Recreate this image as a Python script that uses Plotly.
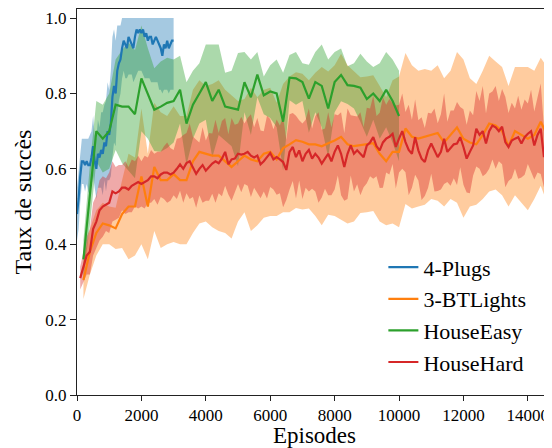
import numpy as np
import plotly.graph_objects as go

# 4-Plugs: every 50 episodes from 0 to 3000
plugs_ep = list(range(0, 3001, 50))
plugs_mean = [0.48, 0.52, 0.58, 0.62, 0.62, 0.61, 0.62, 0.61, 0.61, 0.63,
              0.66, 0.62, 0.60, 0.64, 0.63, 0.65, 0.64, 0.67, 0.66, 0.70,
              0.69, 0.72, 0.79, 0.82, 0.80, 0.86, 0.88, 0.89, 0.92, 0.94,
              0.93, 0.92, 0.95, 0.94, 0.93, 0.92, 0.95, 0.97, 0.96, 0.97,
              0.96, 0.97, 0.95, 0.96, 0.94, 0.95, 0.95, 0.93, 0.94, 0.95,
              0.94, 0.93, 0.92, 0.90, 0.93, 0.92, 0.94, 0.92, 0.93, 0.94,
              0.94]
plugs_std = [0.07, 0.08, 0.07, 0.06, 0.06, 0.07, 0.06, 0.07, 0.08, 0.07,
             0.08, 0.07, 0.08, 0.09, 0.08, 0.10, 0.11, 0.10, 0.12, 0.13,
             0.12, 0.14, 0.16, 0.15, 0.14, 0.12, 0.10, 0.09, 0.08, 0.08,
             0.09, 0.08, 0.10, 0.09, 0.08, 0.09, 0.11, 0.12, 0.10, 0.11,
             0.10, 0.12, 0.11, 0.12, 0.10, 0.11, 0.12, 0.10, 0.11, 0.12,
             0.11, 0.12, 0.11, 0.10, 0.12, 0.11, 0.13, 0.12, 0.12, 0.13,
             0.13]

# 3-BTLights: every 200 episodes from 200 to 14800
bt_ep = list(range(200, 14801, 200))
bt_mean = [0.305, 0.38, 0.43, 0.455, 0.45, 0.442, 0.48, 0.50, 0.50, 0.58,
           0.50, 0.605, 0.57, 0.57, 0.586, 0.57, 0.57, 0.62, 0.645, 0.64,
           0.635, 0.635, 0.62, 0.605, 0.62, 0.635, 0.625, 0.62, 0.64, 0.645,
           0.625, 0.655, 0.665, 0.676, 0.672, 0.665, 0.665, 0.66, 0.668, 0.675,
           0.685, 0.665, 0.66, 0.663, 0.665, 0.668, 0.64, 0.62, 0.645, 0.645,
           0.707, 0.685, 0.68, 0.685, 0.69, 0.695, 0.67, 0.69, 0.71, 0.68,
           0.67, 0.665, 0.69, 0.72, 0.715, 0.70, 0.66, 0.70, 0.69, 0.68,
           0.69, 0.725, 0.69, 0.72]
bt_std = [0.05, 0.06, 0.06, 0.055, 0.05, 0.055, 0.09, 0.14, 0.13, 0.18,
          0.14, 0.17, 0.18, 0.17, 0.18, 0.17, 0.17, 0.19, 0.19, 0.18,
          0.19, 0.20, 0.19, 0.19, 0.16, 0.15, 0.19, 0.17, 0.17, 0.17,
          0.15, 0.17, 0.18, 0.18, 0.18, 0.17, 0.19, 0.21, 0.19, 0.20,
          0.22, 0.21, 0.20, 0.18, 0.18, 0.18, 0.18, 0.17, 0.19, 0.20,
          0.20, 0.19, 0.18, 0.18, 0.17, 0.18, 0.17, 0.17, 0.20, 0.21,
          0.17, 0.16, 0.17, 0.18, 0.17, 0.17, 0.16, 0.17, 0.18, 0.19,
          0.17, 0.17, 0.18, 0.18]

# HouseEasy: every 200 episodes from 200 to 10000
easy_ep = list(range(200, 10001, 200))
easy_mean = [0.36, 0.53, 0.70, 0.68, 0.70, 0.77, 0.765, 0.765, 0.745, 0.84,
             0.80, 0.757, 0.765, 0.775, 0.78, 0.81, 0.72, 0.77, 0.80, 0.83,
             0.78, 0.81, 0.765, 0.76, 0.757, 0.83, 0.79, 0.85, 0.795, 0.805,
             0.80, 0.725, 0.842, 0.84, 0.83, 0.786, 0.83, 0.82, 0.76, 0.83,
             0.849, 0.822, 0.82, 0.815, 0.785, 0.80, 0.78, 0.81, 0.78, 0.74]
easy_std = [0.05, 0.08, 0.08, 0.09, 0.10, 0.12, 0.15, 0.17, 0.17, 0.14,
            0.12, 0.11, 0.12, 0.12, 0.11, 0.09, 0.11, 0.09, 0.08, 0.10,
            0.15, 0.12, 0.09, 0.10, 0.15, 0.08, 0.10, 0.06, 0.05, 0.07,
            0.09, 0.13, 0.06, 0.07, 0.05, 0.09, 0.08, 0.11, 0.13, 0.08,
            0.07, 0.05, 0.06, 0.09, 0.10, 0.07, 0.10, 0.10, 0.11, 0.12]

# HouseHard: every 100 episodes from 100 to 14800
hard_ep = list(range(100, 14801, 100))
hard_mean = [0.31, 0.34, 0.37, 0.38, 0.44, 0.46, 0.49, 0.50, 0.505, 0.51,
             0.54, 0.535, 0.54, 0.55, 0.55, 0.545, 0.555, 0.56, 0.565, 0.56,
             0.565, 0.57, 0.58, 0.58, 0.575, 0.585, 0.59, 0.59, 0.585, 0.59,
             0.60, 0.612, 0.60, 0.615, 0.62, 0.605, 0.587, 0.60, 0.61, 0.595,
             0.605, 0.614, 0.62, 0.615, 0.627, 0.645, 0.612, 0.625, 0.627, 0.64,
             0.638, 0.64, 0.645, 0.635, 0.63, 0.635, 0.612, 0.62, 0.631, 0.642,
             0.625, 0.631, 0.625, 0.618, 0.597, 0.645, 0.658, 0.631, 0.649, 0.62,
             0.64, 0.65, 0.627, 0.64, 0.63, 0.614, 0.627, 0.64, 0.62, 0.645,
             0.662, 0.64, 0.605, 0.64, 0.662, 0.64, 0.649, 0.64, 0.631, 0.662,
             0.67, 0.684, 0.66, 0.649, 0.67, 0.68, 0.685, 0.693, 0.658, 0.68,
             0.70, 0.671, 0.65, 0.64, 0.684, 0.649, 0.627, 0.618, 0.649, 0.667,
             0.65, 0.631, 0.645, 0.68, 0.645, 0.655, 0.665, 0.667, 0.684, 0.658,
             0.627, 0.645, 0.662, 0.7065, 0.69, 0.70, 0.667, 0.70, 0.715, 0.71,
             0.70, 0.712, 0.671, 0.658, 0.675, 0.68, 0.684, 0.667, 0.684, 0.693,
             0.70, 0.662, 0.69, 0.7065, 0.631, 0.66, 0.667, 0.675]
hard_std = [0.03, 0.04, 0.05, 0.06, 0.07, 0.07, 0.08, 0.08, 0.07, 0.08,
            0.08, 0.07, 0.07, 0.06, 0.07, 0.06, 0.07, 0.06, 0.07, 0.06,
            0.07, 0.06, 0.07, 0.06, 0.07, 0.06, 0.07, 0.08, 0.07, 0.06,
            0.08, 0.07, 0.09, 0.08, 0.10, 0.08, 0.09, 0.07, 0.10, 0.08,
            0.09, 0.08, 0.11, 0.08, 0.10, 0.09, 0.08, 0.11, 0.09, 0.08,
            0.10, 0.08, 0.09, 0.11, 0.08, 0.10, 0.09, 0.08, 0.11, 0.09,
            0.08, 0.10, 0.09, 0.12, 0.08, 0.10, 0.09, 0.11, 0.08, 0.10,
            0.09, 0.11, 0.08, 0.10, 0.12, 0.09, 0.08, 0.11, 0.09, 0.10,
            0.08, 0.11, 0.09, 0.12, 0.08, 0.10, 0.09, 0.11, 0.08, 0.10,
            0.09, 0.11, 0.08, 0.10, 0.12, 0.09, 0.10, 0.08, 0.11, 0.09,
            0.10, 0.08, 0.12, 0.09, 0.10, 0.08, 0.11, 0.09, 0.10, 0.08,
            0.11, 0.09, 0.10, 0.12, 0.08, 0.10, 0.09, 0.11, 0.08, 0.10,
            0.09, 0.11, 0.08, 0.10, 0.09, 0.12, 0.08, 0.10, 0.09, 0.11,
            0.08, 0.10, 0.12, 0.09, 0.10, 0.08, 0.11, 0.09, 0.10, 0.08,
            0.11, 0.09, 0.10, 0.12, 0.08, 0.10, 0.09, 0.11]

x_ticks = [0, 2000, 4000, 6000, 8000, 10000, 12000, 14000]
y_ticks = [0.0, 0.2, 0.4, 0.6, 0.8, 1.0]

series = [
    ("4-Plugs", plugs_ep, plugs_mean, plugs_std, (31, 119, 180)),
    ("3-BTLights", bt_ep, bt_mean, bt_std, (255, 127, 14)),
    ("HouseEasy", easy_ep, easy_mean, easy_std, (44, 160, 44)),
    ("HouseHard", hard_ep, hard_mean, hard_std, (214, 39, 40)),
]

fig = go.Figure()

# shaded bands first
for name, ep, mean, std, (r, g, b) in series:
    mean = np.array(mean)
    std = np.array(std)
    upper = np.minimum(mean + std, 1.0)
    lower = mean - std
    fig.add_trace(go.Scatter(x=ep, y=upper, mode='lines', line=dict(width=0),
                             showlegend=False, hoverinfo='skip'))
    fig.add_trace(go.Scatter(x=ep, y=lower, mode='lines', line=dict(width=0),
                             fill='tonexty', fillcolor=f'rgba({r},{g},{b},0.4)',
                             showlegend=False, hoverinfo='skip'))

# mean curves on top
for name, ep, mean, std, (r, g, b) in series:
    fig.add_trace(go.Scatter(x=ep, y=mean, mode='lines', name=name,
                             line=dict(color=f'rgb({r},{g},{b})', width=2.2)))

axis_style = dict(
    showgrid=False, zeroline=False, showline=True, linecolor='#222', linewidth=1,
    ticks='outside', tickwidth=1, tickcolor='#222',
    tickfont=dict(size=17), automargin=False,
)

# the page body adds an 8px offset, so the figure is 8px smaller than the window
fig.update_layout(
    width=544, height=440,
    margin=dict(l=69, r=0, t=1, b=53),
    plot_bgcolor='white', paper_bgcolor='white',
    font=dict(family='Liberation Serif', color='black'),
    xaxis=dict(range=[0, 14750], tickvals=x_ticks,
               ticktext=[str(v) for v in x_ticks], mirror=True, ticklen=5,
               title=dict(text='Episodes', font=dict(size=23), standoff=7),
               **axis_style),
    yaxis=dict(range=[0, 1.024], tickvals=y_ticks, tickformat='.1f',
               ticklen=6,
               title=dict(text='Taux de succès', font=dict(size=24), standoff=6),
               **axis_style),
    legend=dict(x=0.645, y=0.03, xanchor='left', yanchor='bottom',
                traceorder='normal', font=dict(size=22),
                bgcolor='rgba(0,0,0,0)', tracegroupgap=0),
)

fig.write_html("out.html")
